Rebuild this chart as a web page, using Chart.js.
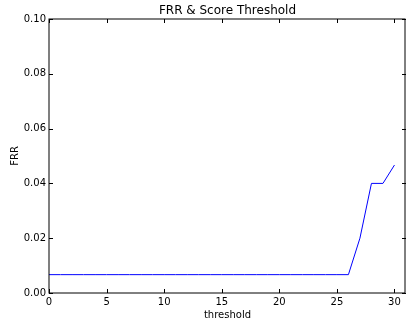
<!DOCTYPE html>
<html>
<head>
<meta charset="utf-8">
<script src="https://cdn.jsdelivr.net/npm/chart.js@4/dist/chart.umd.min.js"></script>
<style>
  html, body { margin: 0; padding: 0; background: #fff; }
  #wrap { width: 406px; height: 322px; }
</style>
</head>
<body>
<div id="wrap"><canvas id="frrChart"></canvas></div>
<script>
// threshold values and FRR
const thresholds = [0, 1, 2, 3, 4, 5, 6, 7, 8, 9, 10, 11, 12, 13, 14, 15, 16, 17, 18, 19, 20, 21, 22, 23, 24, 25, 26, 27, 28, 29, 30];
const frrValues = [0.0067, 0.0067, 0.0067, 0.0067, 0.0067, 0.0067, 0.0067, 0.0067, 0.0067, 0.0067,
    0.0067, 0.0067, 0.0067, 0.0067, 0.0067, 0.0067, 0.0067, 0.0067, 0.0067, 0.0067,
    0.0067, 0.0067, 0.0067, 0.0067, 0.0067, 0.0067, 0.0067, 0.02, 0.04, 0.04, 0.0467];
const xTicks = [0, 5, 10, 15, 20, 25, 30];
const yTicks = [0, 0.02, 0.04, 0.06, 0.08, 0.10];
const chartTitle = 'FRR & Score Threshold';

const FONT = 'DejaVu Sans';

// matplotlib-style box with inward ticks, title centred over the axes
const frame = {
    id: 'frame',
    afterDatasetsDraw(chart) {
        const ctx = chart.ctx;
        const a = chart.chartArea;
        const xs = chart.scales.x, ys = chart.scales.y;
        ctx.save();
        ctx.strokeStyle = '#000';
        ctx.lineWidth = 1;
        ctx.beginPath();
        xTicks.forEach(v => {
            const px = Math.round(xs.getPixelForValue(v)) + 0.5;
            ctx.moveTo(px, a.bottom); ctx.lineTo(px, a.bottom - 4);
            ctx.moveTo(px, a.top); ctx.lineTo(px, a.top + 4);
        });
        yTicks.forEach(v => {
            const py = Math.round(ys.getPixelForValue(v)) + 0.5;
            ctx.moveTo(a.left, py); ctx.lineTo(a.left + 4, py);
            ctx.moveTo(a.right, py); ctx.lineTo(a.right - 4, py);
        });
        ctx.stroke();
        ctx.strokeRect(Math.round(a.left), Math.round(a.top),
            Math.round(a.right - a.left) - 1, Math.round(a.bottom - a.top));

        ctx.fillStyle = '#000';
        ctx.font = '12px "' + FONT + '"';
        ctx.textAlign = 'center';
        ctx.textBaseline = 'middle';
        ctx.fillText(chartTitle, (a.left + a.right) / 2, 11);
        ctx.restore();
    }
};

new Chart(document.getElementById('frrChart'), {
    type: 'line',
    data: {
        datasets: [{
            label: 'FRR',
            data: thresholds.map((t, i) => ({ x: t, y: frrValues[i] })),
            borderColor: '#0000ff',
            borderWidth: 1,
            pointRadius: 0,
            tension: 0,
            fill: false
        }]
    },
    options: {
        responsive: true,
        maintainAspectRatio: false,
        animation: false,
        layout: { padding: { left: 0, right: 0, top: 19, bottom: 0 } },
        plugins: {
            legend: { display: false },
            tooltip: { enabled: false },
            title: { display: false }
        },
        scales: {
            x: {
                type: 'linear',
                min: 0,
                max: 31,
                afterBuildTicks: s => { s.ticks = xTicks.map(v => ({ value: v })); },
                afterFit: s => { s.height = 29; },
                grid: { display: false, drawTicks: false },
                border: { display: false },
                ticks: {
                    color: '#000',
                    font: { family: FONT, size: 10 },
                    padding: 3,
                    maxRotation: 0
                },
                title: {
                    display: true,
                    text: 'threshold',
                    color: '#000',
                    font: { family: FONT, size: 10 },
                    padding: { top: 0, bottom: 1 }
                }
            },
            y: {
                type: 'linear',
                min: 0,
                max: 0.1,
                afterBuildTicks: s => { s.ticks = yTicks.map(v => ({ value: v })); },
                afterFit: s => { s.width = 49; },
                grid: { display: false, drawTicks: false },
                border: { display: false },
                ticks: {
                    color: '#000',
                    font: { family: FONT, size: 10 },
                    padding: 3,
                    callback: v => v.toFixed(2)
                },
                title: {
                    display: true,
                    text: 'FRR',
                    color: '#000',
                    font: { family: FONT, size: 10 },
                    padding: { top: 9, bottom: 0 }
                }
            }
        }
    },
    plugins: [frame]
});
</script>
</body>
</html>
